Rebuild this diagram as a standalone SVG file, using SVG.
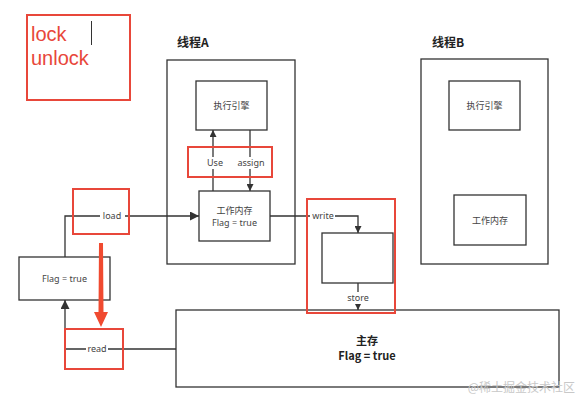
<svg xmlns="http://www.w3.org/2000/svg" width="578" height="400" viewBox="0 0 578 400">
<style>
.box{fill:#fff;stroke:#333;stroke-width:1.3}
.red{fill:none;stroke:#e8473a;stroke-width:2}
.ln{fill:none;stroke:#333;stroke-width:1.3}
.t{font-family:"Noto Sans CJK SC","Noto Sans",sans-serif;font-size:9px;fill:#444;text-anchor:middle}
.lb{font-family:"Noto Sans","Noto Sans CJK SC",sans-serif;font-size:9px;fill:#444;text-anchor:middle}
.h{font-family:"Noto Sans CJK SC",sans-serif;font-size:12px;font-weight:bold;fill:#222}
.m{font-family:"Noto Sans CJK SC","Noto Sans",sans-serif;font-size:11px;font-weight:bold;fill:#222;text-anchor:middle}
</style>
<defs>
<marker id="ar" viewBox="0 0 10 10" refX="10" refY="5" markerWidth="7" markerHeight="7" markerUnits="userSpaceOnUse" orient="auto"><path d="M0,0 L10,5 L0,10 z" fill="#333"/></marker>
<marker id="ar2" viewBox="0 0 10 10" refX="10" refY="5" markerWidth="9" markerHeight="9" markerUnits="userSpaceOnUse" orient="auto"><path d="M0,0 L10,5 L0,10 z" fill="#333"/></marker>
</defs>
<rect width="578" height="400" fill="#fff"/>
<g id="legend">
<rect class="red" x="27" y="15" width="103" height="85"/>
<text x="31" y="41" font-family="'Liberation Sans',sans-serif" font-size="20" fill="#e8473a">lock</text>
<text x="31" y="65" font-family="'Liberation Sans',sans-serif" font-size="20" fill="#e8473a">unlock</text>
<line x1="91.5" y1="21" x2="91.5" y2="45" stroke="#333" stroke-width="1"/>
</g>
<g id="threadA">
<text class="h" x="177" y="47">线程A</text>
<rect class="box" x="167" y="60" width="128" height="204"/>
</g>
<g id="engineA">
<rect class="box" x="196" y="81" width="71" height="49"/>
<text class="t" x="231.5" y="109">执行引擎</text>
</g>
<g id="workA">
<rect class="box" x="199" y="191" width="71" height="50"/>
<text class="t" x="234.5" y="214">工作内存</text>
<text class="lb" x="234.5" y="226">Flag = true</text>
</g>
<g id="threadB">
<text class="h" x="432" y="47">线程B</text>
<rect class="box" x="421" y="59" width="127" height="205"/>
</g>
<g id="engineB">
<rect class="box" x="449" y="81" width="71" height="49"/>
<text class="t" x="484.5" y="109">执行引擎</text>
</g>
<g id="workB">
<rect class="box" x="454" y="195" width="72" height="50"/>
<text class="t" x="490" y="224">工作内存</text>
</g>
<g id="flagBox">
<rect class="box" x="19" y="257" width="91" height="43"/>
<text class="lb" x="64.5" y="282">Flag = true</text>
</g>
<g id="smallBox">
<rect class="box" x="322" y="233" width="71" height="50"/>
</g>
<g id="mainMem">
<rect class="box" x="176" y="310" width="383" height="77"/>
<text class="m" x="367" y="345">主存</text>
<text class="m" x="367" y="360">Flag = true</text>
</g>
<g id="connectors">
<path class="ln" d="M213,191 V130" marker-end="url(#ar)"/>
<path class="ln" d="M250,130 V191" marker-end="url(#ar)"/>
<path class="ln" d="M65,257 V216 H199" marker-end="url(#ar2)"/>
<path class="ln" d="M176,349 H65 V300" marker-end="url(#ar2)"/>
<path class="ln" d="M270,216 H358 V233" marker-end="url(#ar)"/>
<path class="ln" d="M358,283 V310" marker-end="url(#ar)"/>
<rect x="203" y="157" width="24" height="12" fill="#fff"/>
<text class="lb" x="215" y="166">Use</text>
<rect x="234" y="157" width="34" height="12" fill="#fff"/>
<text class="lb" x="251" y="166">assign</text>
<rect x="100" y="210" width="25" height="12" fill="#fff"/>
<text class="lb" x="112" y="219">load</text>
<rect x="86" y="343" width="22" height="12" fill="#fff"/>
<text class="lb" x="97" y="352">read</text>
<rect x="310" y="210" width="25" height="12" fill="#fff"/>
<text class="lb" x="323" y="219">write</text>
<rect x="345" y="292" width="26" height="12" fill="#fff"/>
<text class="lb" x="358" y="301">store</text>
</g>
<g id="highlights">
<rect class="red" x="188" y="147" width="84" height="30"/>
<rect class="red" x="73" y="189" width="56" height="45"/>
<rect class="red" x="65" y="329" width="58" height="40"/>
<rect class="red" x="307" y="199" width="88" height="114"/>
<path d="M99,243 L103,243 L103.5,312 L108,312 L101,327 L94,312 L98.5,312 Z" fill="#f04a30"/>
</g>
<text x="575" y="392" font-family="'Noto Sans CJK SC',sans-serif" font-size="12" fill="#c8c8c8" text-anchor="end">@稀土掘金技术社区</text>
</svg>
